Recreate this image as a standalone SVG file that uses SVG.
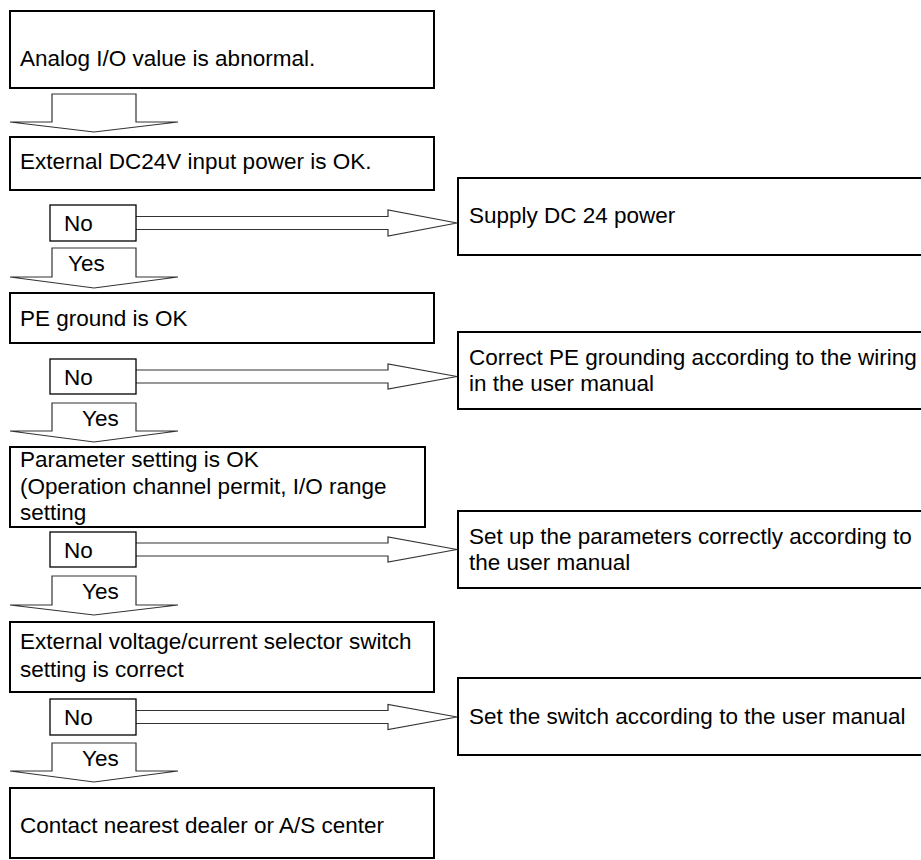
<svg xmlns="http://www.w3.org/2000/svg" width="921" height="860" viewBox="0 0 921 860">
<style>
text{font-family:"Liberation Sans",Arial,sans-serif;font-size:22.5px;fill:#000}
.box{fill:#fff;stroke:#000;stroke-width:2}
.lbl{fill:#fff;stroke:#000;stroke-width:1.3}
.arr{fill:#fff;stroke:#333;stroke-width:1.2;stroke-linejoin:miter}
</style>
<rect width="921" height="860" fill="#fff"/>
<g id="connectors">
<polygon class="arr" points="52,94 136,94 136,122 178,122 94,132 10,122 52,122"/>
<polygon class="arr" points="120,216.5 388,216.5 388,210 457,223 388,236 388,229.5 120,229.5"/>
<polygon class="arr" points="52,248 136,248 136,277 178,277 94,288 10,277 52,277"/>
<polygon class="arr" points="120,370 388,370 388,364 457,376.5 388,389 388,383 120,383"/>
<polygon class="arr" points="52,403 136,403 136,431 178,431 94,442 10,431 52,431"/>
<polygon class="arr" points="120,543 388,543 388,537 457,549.5 388,562 388,556 120,556"/>
<polygon class="arr" points="52,576 136,576 136,605 178,605 94,615 10,605 52,605"/>
<polygon class="arr" points="120,710.5 388,710.5 388,704.5 457,717 388,729.5 388,723.5 120,723.5"/>
<polygon class="arr" points="52,743 136,743 136,771 178,771 94,782 10,771 52,771"/>
<text x="68" y="271">Yes</text>
<text x="82" y="426">Yes</text>
<text x="82" y="599">Yes</text>
<text x="82" y="766">Yes</text>
</g>
<g id="n1"><rect class="box" x="10" y="11" width="424" height="77"/><text x="20" y="66">Analog I/O value is abnormal.</text></g>
<g id="n2"><rect class="box" x="10" y="137" width="424" height="53"/><text x="20" y="169">External DC24V input power is OK.</text></g>
<g id="no1"><rect class="lbl" x="50" y="205" width="86" height="36"/><text x="64" y="231">No</text></g>
<g id="r1"><rect class="box" x="458" y="178" width="480" height="77"/><text x="469" y="223">Supply DC 24 power</text></g>
<g id="n3"><rect class="box" x="10" y="293" width="424" height="50"/><text x="20" y="326">PE ground is OK</text></g>
<g id="no2"><rect class="lbl" x="50" y="359" width="86" height="35"/><text x="64" y="384.5">No</text></g>
<g id="r2"><rect class="box" x="458" y="332" width="480" height="77"/><text x="469" y="365">Correct PE grounding according to the wiring</text><text x="469" y="391">in the user manual</text></g>
<g id="n4"><rect class="box" x="10" y="447" width="415" height="80"/><text x="20" y="467">Parameter setting is OK</text><text x="20" y="494">(Operation channel permit, I/O range</text><text x="20" y="520">setting</text></g>
<g id="no3"><rect class="lbl" x="50" y="532" width="86" height="35"/><text x="64" y="557.5">No</text></g>
<g id="r3"><rect class="box" x="458" y="511" width="480" height="77"/><text x="469" y="544">Set up the parameters correctly according to</text><text x="469" y="570">the user manual</text></g>
<g id="n5"><rect class="box" x="10" y="622" width="424" height="70"/><text x="20" y="649">External voltage/current selector switch</text><text x="20" y="677">setting is correct</text></g>
<g id="no4"><rect class="lbl" x="50" y="699" width="86" height="36"/><text x="64" y="725">No</text></g>
<g id="r4"><rect class="box" x="458" y="678" width="480" height="77"/><text x="469" y="724">Set the switch according to the user manual</text></g>
<g id="n6"><rect class="box" x="10" y="788" width="424" height="70"/><text x="20" y="833">Contact nearest dealer or A/S center</text></g>
</svg>
